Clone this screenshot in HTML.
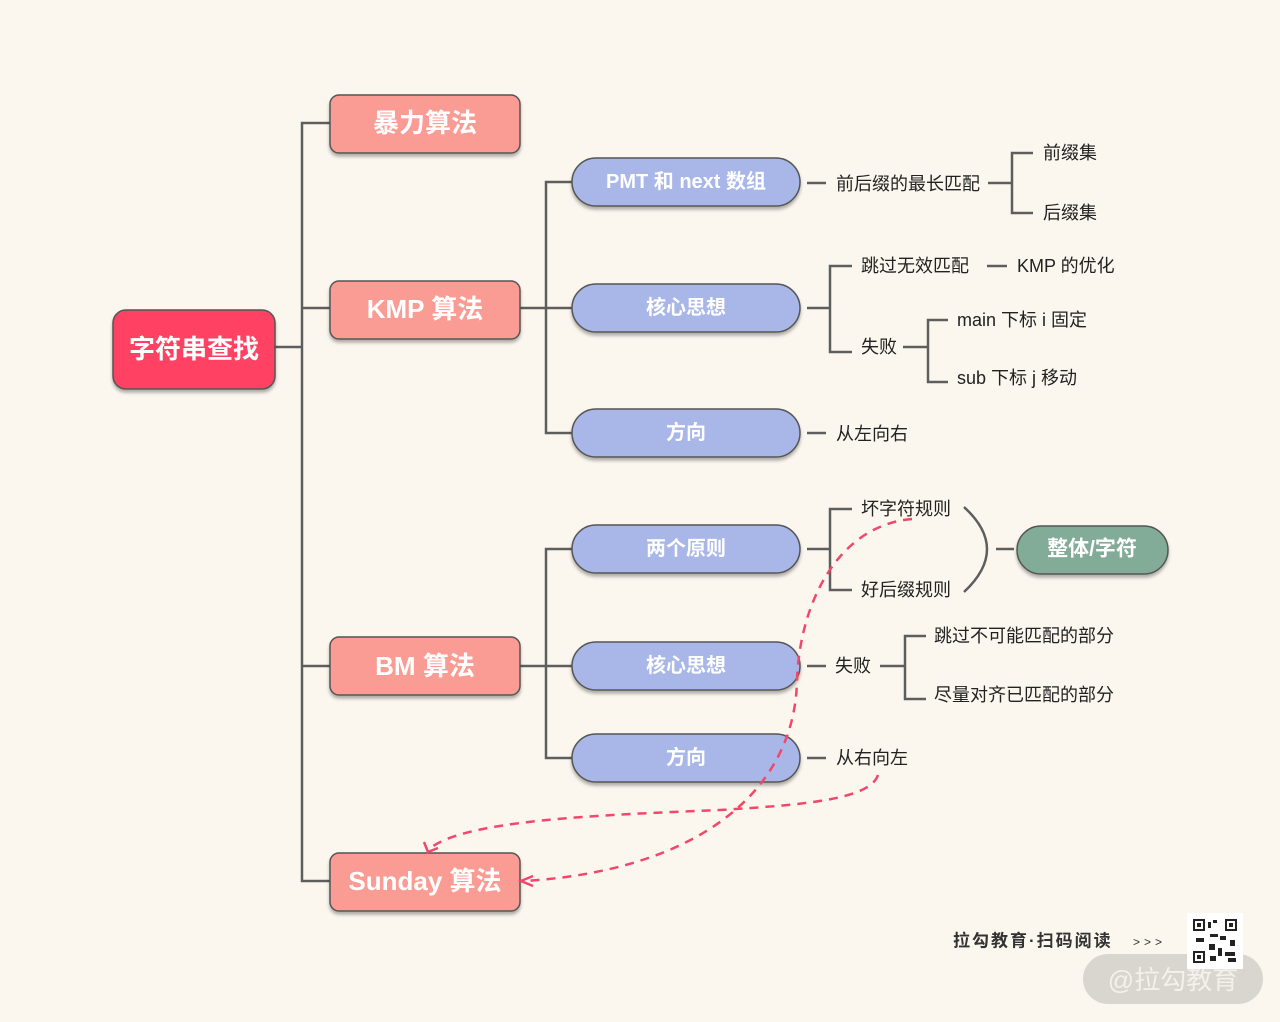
<!DOCTYPE html>
<html><head><meta charset="utf-8"><style>
html,body{margin:0;padding:0;background:#fbf7ef;}
svg{display:block;}
text{font-family:"Liberation Sans","Noto Sans CJK SC",sans-serif;}
.w{fill:#fff;font-weight:bold;text-anchor:middle;dominant-baseline:central;}
.t{fill:#222;font-size:18px;dominant-baseline:central;}
.l{stroke:#5e5e5e;stroke-width:2.5;fill:none;}
.d{stroke:#f2476a;stroke-width:2.5;fill:none;stroke-dasharray:9 7;}
</style></head><body>
<svg width="1280" height="1022" viewBox="0 0 1280 1022">
<defs>
<filter id="s" x="-10%" y="-10%" width="120%" height="140%"><feDropShadow dx="0" dy="3" stdDeviation="1.5" flood-color="#000" flood-opacity="0.3"/></filter>
</defs>
<!-- connectors -->
<path class="l" d="M275 347H302M330 123H302V881H330M302 308H330M302 666H330"/>
<path class="l" d="M520 308H546M572 182H546V433H572M546 308H572"/>
<path class="l" d="M520 666H546M572 549H546V758H572M546 666H572"/>
<path class="l" d="M807 183H826M988 183H1012M1033 153H1012V213H1033"/>
<path class="l" d="M807 308H830M852 266H830V352H852M987 266H1007M903 347H928M948 320H928V382H948M807 433H826"/>
<path class="l" d="M807 549H830M852 509H830V590H852M996 549H1014M964 507Q1010 549 964 592"/>
<path class="l" d="M807 666H826M880 666H905M926 636H905V699H926M807 758H826"/>
<!-- nodes -->
<rect x="113" y="310" width="162" height="79" rx="13" fill="#ff4264" stroke="#555" stroke-width="1.5" filter="url(#s)"/>
<text class="w" x="194" y="349" font-size="26">字符串查找</text>
<g fill="#fb9c94" stroke="#555" stroke-width="1.5" filter="url(#s)">
<rect x="330" y="95" width="190" height="58" rx="9"/>
<rect x="330" y="281" width="190" height="58" rx="9"/>
<rect x="330" y="637" width="190" height="58" rx="9"/>
<rect x="330" y="853" width="190" height="58" rx="9"/>
</g>
<text class="w" x="425" y="123" font-size="26">暴力算法</text>
<text class="w" x="425" y="309" font-size="26">KMP 算法</text>
<text class="w" x="425" y="666" font-size="26">BM 算法</text>
<text class="w" x="425" y="881" font-size="26">Sunday 算法</text>
<g fill="#a8b6e8" stroke="#555" stroke-width="1.5" filter="url(#s)">
<rect x="572" y="158" width="228" height="48" rx="24"/>
<rect x="572" y="284" width="228" height="48" rx="24"/>
<rect x="572" y="409" width="228" height="48" rx="24"/>
<rect x="572" y="525" width="228" height="48" rx="24"/>
<rect x="572" y="642" width="228" height="48" rx="24"/>
<rect x="572" y="734" width="228" height="48" rx="24"/>
</g>
<text class="w" x="686" y="182" font-size="20">PMT 和 next 数组</text>
<text class="w" x="686" y="308" font-size="20">核心思想</text>
<text class="w" x="686" y="433" font-size="20">方向</text>
<text class="w" x="686" y="549" font-size="20">两个原则</text>
<text class="w" x="686" y="666" font-size="20">核心思想</text>
<text class="w" x="686" y="758" font-size="20">方向</text>
<rect x="1017" y="526" width="151" height="48" rx="24" fill="#82ac98" stroke="#555" stroke-width="1.5" filter="url(#s)"/>
<text class="w" x="1092" y="549" font-size="21">整体/字符</text>
<!-- leaf texts -->
<text class="t" x="836" y="184">前后缀的最长匹配</text>
<text class="t" x="1043" y="153">前缀集</text>
<text class="t" x="1043" y="213">后缀集</text>
<text class="t" x="861" y="266">跳过无效匹配</text>
<text class="t" x="1017" y="266">KMP 的优化</text>
<text class="t" x="861" y="347">失败</text>
<text class="t" x="957" y="320">main 下标 i 固定</text>
<text class="t" x="957" y="378">sub 下标 j 移动</text>
<text class="t" x="836" y="434">从左向右</text>
<text class="t" x="861" y="509">坏字符规则</text>
<text class="t" x="861" y="590">好后缀规则</text>
<text class="t" x="835" y="666">失败</text>
<text class="t" x="934" y="636">跳过不可能匹配的部分</text>
<text class="t" x="934" y="695">尽量对齐已匹配的部分</text>
<text class="t" x="836" y="758">从右向左</text>
<!-- dashed -->
<path class="d" d="M912 519C840 525 800 600 797 680C795 790 700 870 525 881"/>
<path class="d" d="M878 775C870 800 800 805 720 810C600 815 460 820 428 850"/>
<path d="M533 876L521 881L533 886" stroke="#f2476a" stroke-width="2.5" fill="none"/>
<path d="M424 842L428 852L438 848" stroke="#f2476a" stroke-width="2.5" fill="none"/>
<!-- footer -->
<text x="953" y="941" font-size="17" font-weight="bold" fill="#333" dominant-baseline="central" letter-spacing="2">拉勾教育·扫码阅读</text>
<text x="1133" y="942" font-size="12" fill="#333" dominant-baseline="central" letter-spacing="4">&gt;&gt;&gt;</text>
<rect x="1083" y="954" width="180" height="50" rx="25" fill="#d9d6cf"/>
<text x="1173" y="980" font-size="26" fill="#f3f1ec" text-anchor="middle" dominant-baseline="central">@拉勾教育</text>
<rect x="1187" y="913" width="56" height="56" fill="#fff"/>
<g fill="#222">
<rect x="1193" y="919" width="12" height="12"/><rect x="1225" y="919" width="12" height="12"/><rect x="1193" y="951" width="12" height="12"/>
<rect x="1208" y="922" width="3" height="6"/><rect x="1213" y="920" width="4" height="3"/><rect x="1210" y="934" width="8" height="3"/>
<rect x="1220" y="936" width="6" height="4"/><rect x="1230" y="940" width="5" height="6"/><rect x="1209" y="944" width="6" height="6"/>
<rect x="1218" y="948" width="4" height="8"/><rect x="1225" y="952" width="10" height="4"/><rect x="1210" y="956" width="6" height="5"/>
<rect x="1228" y="958" width="8" height="4"/><rect x="1196" y="938" width="8" height="4"/>
</g>
<g fill="#fff"><rect x="1195" y="921" width="8" height="8"/><rect x="1227" y="921" width="8" height="8"/><rect x="1195" y="953" width="8" height="8"/></g>
<g fill="#222"><rect x="1197" y="923" width="4" height="4"/><rect x="1229" y="923" width="4" height="4"/><rect x="1197" y="955" width="4" height="4"/></g>
</svg>
</body></html>
